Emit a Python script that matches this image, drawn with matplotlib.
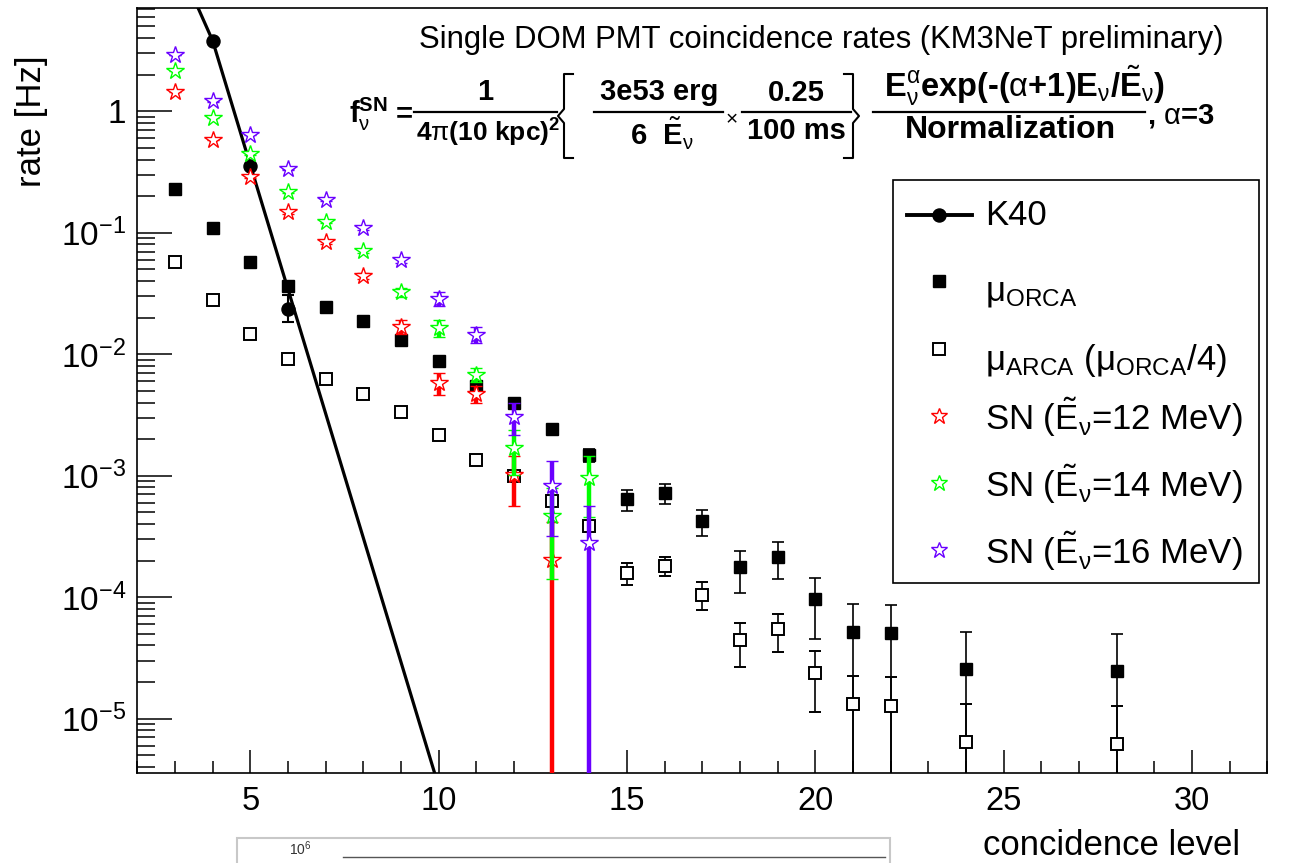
import numpy as np
import matplotlib
matplotlib.use('Agg')
import matplotlib.pyplot as plt
from matplotlib.ticker import FixedLocator, MultipleLocator, LogLocator, NullFormatter, FixedFormatter
from matplotlib.patches import Rectangle

plt.rcParams['font.family'] = ['Liberation Sans', 'DejaVu Sans']
plt.rcParams['mathtext.fontset'] = 'custom'
plt.rcParams['mathtext.rm'] = 'Liberation Sans'
plt.rcParams['mathtext.it'] = 'Liberation Sans:italic'
plt.rcParams['mathtext.bf'] = 'Liberation Sans:bold'

# ---------------- data ----------------
k40_line_x = [3, 4, 5, 6, 7, 8, 9, 10]
k40_line_y = [19.0, 3.81, 0.361, 0.0343, 3.25e-3, 3.08e-4, 2.92e-5, 2.77e-6]
k40_x = [4, 5, 6]
k40_y = [3.81, 0.351, 0.0237]
k40_lo = [3.81, 0.351, 0.0184]
k40_hi = [3.81, 0.351, 0.0305]

orca_x = [3, 4, 5, 6, 7, 8, 9, 10, 11, 12, 13, 14, 15, 16, 17, 18, 19, 20, 21, 22, 24, 28]
orca_y = [0.227, 0.110, 0.0573, 0.0364, 0.0245, 0.0187, 0.0132, 0.00875, 0.00544, 0.0040,
          0.00241, 0.00148, 6.37e-4, 7.22e-4, 4.2e-4, 1.76e-4, 2.15e-4, 9.6e-5, 5.19e-5,
          5.04e-5, 2.56e-5, 2.45e-5]
orca_lo = [0.227, 0.110, 0.0573, 0.0364, 0.0245, 0.0187, 0.0132, 0.00875, 0.00544, 0.0040,
           0.00241, 1.30e-3, 5.1e-4, 5.83e-4, 3.2e-4, 1.09e-4, 1.40e-4, 4.5e-5, 1e-9,
           1e-9, 1e-9, 1e-9]
orca_hi = [0.227, 0.110, 0.0573, 0.0364, 0.0245, 0.0187, 0.0132, 0.00875, 0.00544, 0.0040,
           0.00241, 1.67e-3, 7.6e-4, 8.47e-4, 5.2e-4, 2.41e-4, 2.84e-4, 1.44e-4, 8.83e-5,
           8.6e-5, 5.14e-5, 5.0e-5]

arca_x = [3, 4, 5, 6, 7, 8, 9, 10, 11, 12, 13, 14, 15, 16, 17, 18, 19, 20, 21, 22, 24, 28]
arca_y = [0.0573, 0.0281, 0.0146, 0.0092, 0.00622, 0.00468, 0.00333, 0.00218, 0.00134, 9.9e-4,
          6.2e-4, 3.86e-4, 1.59e-4, 1.81e-4, 1.05e-4, 4.43e-5, 5.5e-5, 2.39e-5, 1.32e-5,
          1.27e-5, 6.43e-6, 6.22e-6]
arca_lo = [0.0573, 0.0281, 0.0146, 0.0092, 0.00622, 0.00468, 0.00333, 0.00218, 0.00134, 9.9e-4,
           6.2e-4, 3.86e-4, 1.26e-4, 1.49e-4, 7.9e-5, 2.68e-5, 3.56e-5, 1.14e-5, 1e-9,
           1e-9, 1e-9, 1e-9]
arca_hi = [0.0573, 0.0281, 0.0146, 0.0092, 0.00622, 0.00468, 0.00333, 0.00218, 0.00134, 9.9e-4,
           6.2e-4, 3.86e-4, 1.92e-4, 2.15e-4, 1.33e-4, 6.1e-5, 7.26e-5, 3.62e-5, 2.26e-5,
           2.19e-5, 1.31e-5, 1.27e-5]

sn12_x = [3, 4, 5, 6, 7, 8, 9, 10, 11, 12, 13]
sn12_y = [1.45, 0.585, 0.286, 0.147, 0.0832, 0.0443, 0.01675, 0.0058, 0.00474, 0.00101, 2.02e-4]
sn12_err = [0.02, 0.01, 0.006, 0.004, 0.003, 0.0025, 0.0022, 0.0012, 0.00075, 0.00045, 2.1e-4]

sn14_x = [3, 4, 5, 6, 7, 8, 9, 10, 11, 12, 13, 14]
sn14_y = [2.16, 0.883, 0.446, 0.217, 0.123, 0.0706, 0.0323, 0.0164, 0.0068, 0.00169, 4.65e-4, 9.48e-4]
sn14_err = [0.02, 0.01, 0.006, 0.004, 0.003, 0.0025, 0.003, 0.0026, 0.0009, 0.00068, 3.25e-4, 4.9e-4]

sn16_x = [3, 4, 5, 6, 7, 8, 9, 10, 11, 12, 13, 14]
sn16_y = [2.91, 1.21, 0.640, 0.332, 0.187, 0.109, 0.0592, 0.0287, 0.0145, 0.00305, 8.2e-4, 2.77e-4]
sn16_err = [0.02, 0.01, 0.006, 0.004, 0.003, 0.003, 0.003, 0.0037, 0.0022, 0.0009, 5e-4, 2.9e-4]

x_ticks = [5, 10, 15, 20, 25, 30]
y_ticks = [1e-5, 1e-4, 1e-3, 1e-2, 1e-1, 1]
y_ticklabels = [r'10$^{-5}$', r'10$^{-4}$', r'10$^{-3}$', r'10$^{-2}$', r'10$^{-1}$', '1']

sn_labels = [r'SN ($\tilde{\mathrm{E}}_{\mathrm{\nu}}$=12 MeV)',
             r'SN ($\tilde{\mathrm{E}}_{\mathrm{\nu}}$=14 MeV)',
             r'SN ($\tilde{\mathrm{E}}_{\mathrm{\nu}}$=16 MeV)']
RED, GREEN, VIOLET = '#ff0000', '#00ff00', '#6a00ff'

# ---------------- figure ----------------
W, H = 1293, 863
fig = plt.figure(figsize=(W / 100, H / 100), dpi=100)
L, R, T, B = 137.3, 1267.3, 8.0, 772.5
ax = fig.add_axes([L / W, 1 - B / H, (R - L) / W, (B - T) / H])
ax.set_yscale('log')
ax.set_xlim(2, 32)
ax.set_ylim(10 ** -5.444, 10 ** 0.85)

for s in ax.spines.values():
    s.set_linewidth(1.2)

ax.xaxis.set_major_locator(FixedLocator(x_ticks))
ax.xaxis.set_minor_locator(MultipleLocator(1))
ax.yaxis.set_major_locator(FixedLocator(y_ticks))
ax.yaxis.set_major_formatter(FixedFormatter(y_ticklabels))
ax.yaxis.set_minor_locator(LogLocator(base=10, subs=np.arange(2, 10), numticks=20))
ax.yaxis.set_minor_formatter(NullFormatter())

ax.tick_params(axis='x', which='major', direction='in', length=16.5, width=1.1, labelsize=23.5, pad=10)
ax.tick_params(axis='x', which='minor', direction='in', length=8.6, width=1.1)
ax.tick_params(axis='y', which='major', direction='in', length=25, width=1.1, labelsize=24, pad=8)
ax.tick_params(axis='y', which='minor', direction='in', length=12.7, width=1.1)
ax.tick_params(top=False, right=False, which='both')

# K40
ax.plot(k40_line_x, k40_line_y, color='black', lw=2.3, zorder=3)
k40_err = [np.array(k40_y) - np.array(k40_lo), np.array(k40_hi) - np.array(k40_y)]
ax.errorbar(k40_x, k40_y, yerr=k40_err, fmt='o', color='black', ms=9.4,
            elinewidth=1.5, capsize=4, capthick=1.5, zorder=4)

# muons
orca_err = [np.array(orca_y) - np.array(orca_lo), np.array(orca_hi) - np.array(orca_y)]
ax.errorbar(orca_x, orca_y, yerr=orca_err, fmt='s', color='black', ms=8.4,
            elinewidth=1.2, capsize=4, capthick=1.2, zorder=5)
arca_err = [np.array(arca_y) - np.array(arca_lo), np.array(arca_hi) - np.array(arca_y)]
ax.errorbar(arca_x, arca_y, yerr=arca_err, fmt='s', mfc='white', mec='black', mew=1.4,
            ecolor='black', ms=8.0, elinewidth=1.2, capsize=4, capthick=1.2, zorder=5)

# supernova
for xs, ys, es, c, z in [(sn12_x, sn12_y, sn12_err, RED, 6),
                         (sn14_x, sn14_y, sn14_err, GREEN, 7),
                         (sn16_x, sn16_y, sn16_err, VIOLET, 8)]:
    ax.errorbar(xs, ys, yerr=es, fmt='*', ms=13, mfc='white', mec=c, mew=1.0,
                ecolor=c, elinewidth=3.2, capsize=4, capthick=3.2, zorder=z)

# axis titles
ax.set_xlabel('concidence level', fontsize=25)
ax.xaxis.set_label_coords((1240 - L) / (R - L), (B - 845) / (B - T))
ax.xaxis.label.set_ha('right')
ax.xaxis.label.set_va('center')
ax.set_ylabel('rate [Hz]', fontsize=25)
ax.yaxis.set_label_coords((32 - L) / (R - L), (B - 55) / (B - T))
ax.yaxis.label.set_ha('right')
ax.yaxis.label.set_va('center')

# ---------------- overlay (pixel coords) ----------------
ov = fig.add_axes([0, 0, 1, 1])
ov.set_xlim(0, W)
ov.set_ylim(H, 0)
ov.axis('off')
ov.patch.set_alpha(0)

ov.text(821, 40, 'Single DOM PMT coincidence rates (KM3NeT preliminary)',
        ha='center', va='center', fontsize=22.4)

FS = 21
bold = dict(fontsize=FS, fontweight='bold', va='center')
ov.text(349, 114, r'$\mathbf{f}^{\mathbf{SN}}_{\mathrm{\nu}}$', ha='left', **bold)
ov.text(404, 114, '=', ha='center', **bold)
ov.plot([414, 557], [112, 112], color='black', lw=1.6)
ov.text(485, 92, '1', ha='center', **bold)
ov.text(488, 133, r'4$\mathrm{\pi}$(10 kpc)$^{\mathbf{2}}$', ha='center',
        fontsize=19, fontweight='bold', va='center')

def brace(x, top, bot, d):
    mid = 0.5 * (top + bot)
    ov.plot([x + d * 9, x, x, x - d * 6, x, x, x + d * 9],
            [top, top, mid - 7, mid, mid + 7, bot, bot], color='black', lw=1.5)

brace(564, 74, 158, 1)
ov.text(659, 92, '3e53 erg', ha='center', **bold)
ov.plot([594, 723], [112, 112], color='black', lw=1.6)
ov.text(662, 134, r'6  $\tilde{\mathbf{E}}_{\mathrm{\nu}}$', ha='center', **bold)
ov.text(731, 118, r'$\times$', ha='center', va='center', fontsize=15)
ov.text(796, 93, '0.25', ha='center', **bold)
ov.plot([742, 851], [112, 112], color='black', lw=1.6)
ov.text(796, 131, '100 ms', ha='center', **bold)
brace(853, 74, 158, -1)
ov.text(1025, 86,
        r'$\mathbf{E}^{\mathrm{\alpha}}_{\mathrm{\nu}}$exp(-($\mathrm{\alpha}$+1)E$_{\mathrm{\nu}}$/$\tilde{\mathbf{E}}_{\mathrm{\nu}}$)',
        ha='center', fontsize=23.5, fontweight='bold', va='center')
ov.plot([873, 1145], [112, 112], color='black', lw=1.6)
ov.text(1010, 130, 'Normalization', ha='center', fontsize=23, fontweight='bold', va='center')
ov.text(1147, 116, r', $\mathrm{\alpha}$=3', ha='left', **bold)

# legend
ov.add_patch(Rectangle((893, 180), 366, 403, facecolor='white', edgecolor='black', lw=1.2, zorder=2))
LFS = 25
ov.plot([907, 972], [215, 215], color='black', lw=2.8, zorder=3)
ov.plot([939], [215], 'o', color='black', ms=9.4, zorder=4)
ov.text(985, 215, 'K40', ha='left', va='center', fontsize=LFS, zorder=4)
ov.plot([939], [281], 's', color='black', ms=8.4, zorder=4)
ov.text(985, 292, r'$\mathrm{\mu}_{\mathrm{ORCA}}$', ha='left', va='center', fontsize=LFS, zorder=4)
ov.plot([939], [349], 's', mfc='white', mec='black', mew=1.4, ms=8.0, zorder=4)
ov.text(985, 360, r'$\mathrm{\mu}_{\mathrm{ARCA}}$ ($\mathrm{\mu}_{\mathrm{ORCA}}$/4)', ha='left',
        va='center', fontsize=LFS, zorder=4)
for yy, c, lab in [(416, RED, sn_labels[0]), (483, GREEN, sn_labels[1]), (550, VIOLET, sn_labels[2])]:
    ov.plot([939], [yy], '*', mfc='white', mec=c, mew=1.0, ms=12, zorder=4)
    ov.text(985, yy + 1, lab, ha='left', va='center', fontsize=LFS, zorder=4)

# partial next figure at bottom
ov.add_patch(Rectangle((237, 838), 653, 40, facecolor='white', edgecolor='#c8c8c8', lw=1.5, zorder=1))
ov.text(300, 849, r'10$^{6}$', ha='center', va='center', fontsize=10, color='#333333')
ov.plot([343, 885], [857, 857], color='#555555', lw=1.0)

fig.savefig('out.png', dpi=100)
